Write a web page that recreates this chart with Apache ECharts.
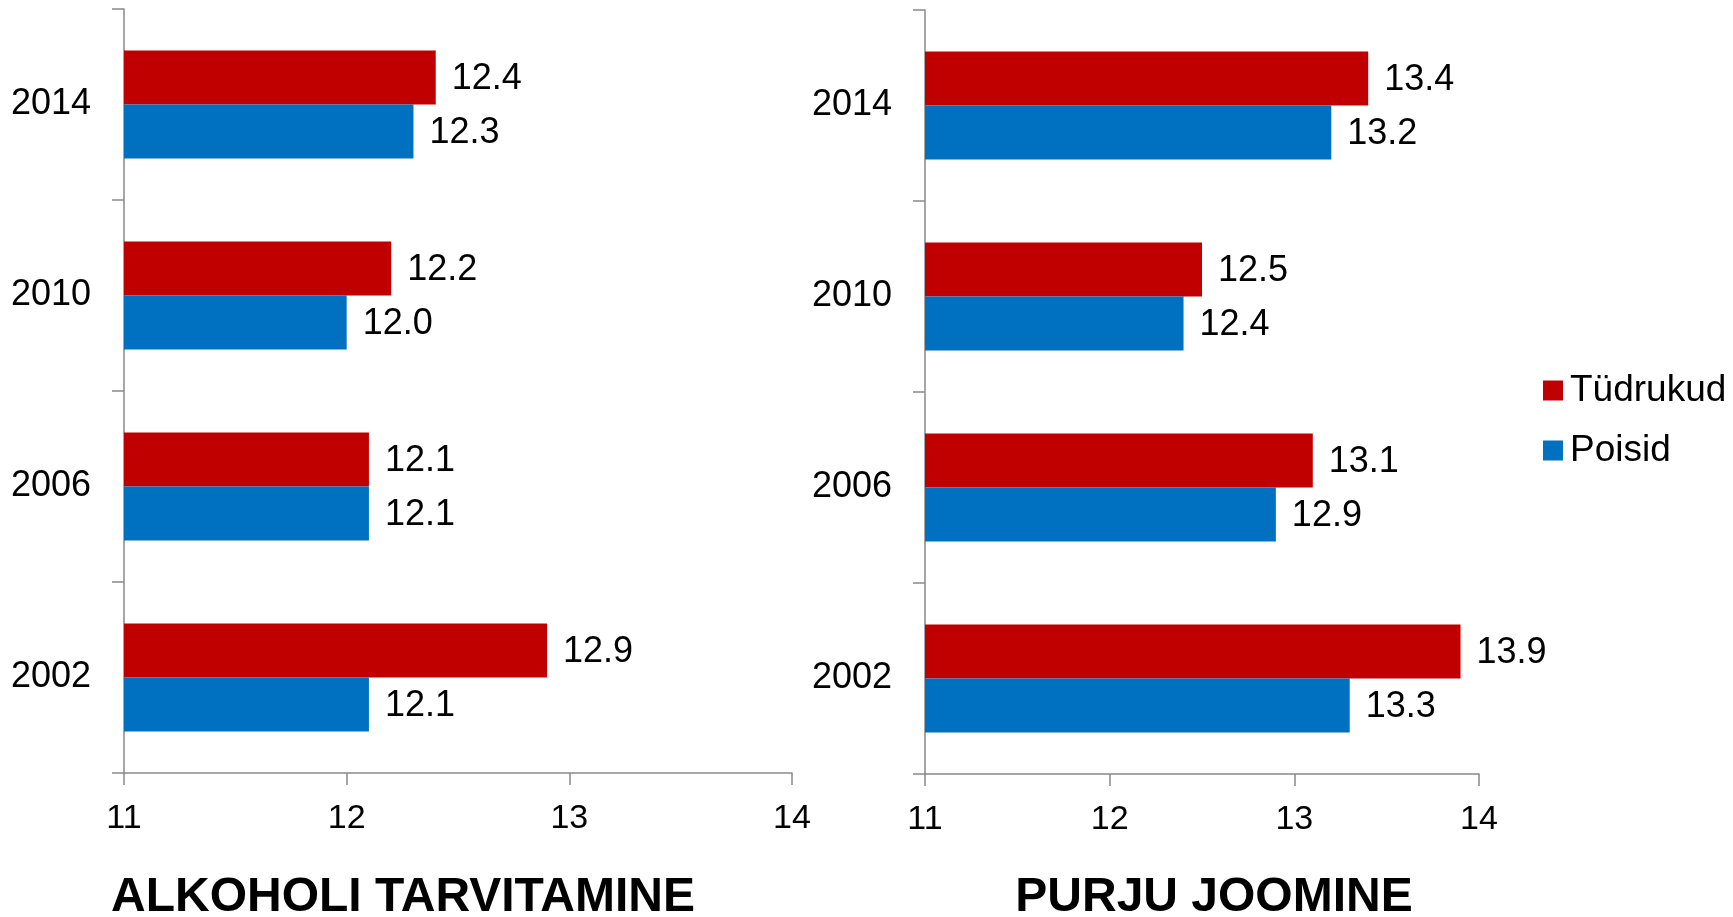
<!DOCTYPE html>
<html>
<head>
<meta charset="utf-8">
<script src="https://cdn.jsdelivr.net/npm/echarts@6/dist/echarts.min.js"></script>
<style>
html,body{margin:0;padding:0;background:#fff;}
#chart{width:1733px;height:917px;}
</style>
</head>
<body>
<div id="chart"></div>
<script>
const years = ['2002', '2006', '2010', '2014'];
const valueTicks = [11, 12, 13, 14];
const seriesNames = ['Tüdrukud', 'Poisid'];
const alcoholGirls = [12.9, 12.1, 12.2, 12.4];
const alcoholBoys = [12.1, 12.1, 12.0, 12.3];
const drunkGirls = [13.9, 13.1, 12.5, 13.4];
const drunkBoys = [13.3, 12.9, 12.4, 13.2];
const titles = ['ALKOHOLI TARVITAMINE', 'PURJU JOOMINE'];

const FONT = '"Liberation Sans", Arial, sans-serif';
const RED = '#C00000';
const BLUE = '#0070C0';
const AXIS = '#898989';

const chart = echarts.init(document.getElementById('chart'), null, {renderer: 'canvas'});

function xAxis(gridIndex) {
  return {
    type: 'value', gridIndex: gridIndex,
    min: valueTicks[0], max: valueTicks[valueTicks.length - 1], interval: 1,
    axisLine: {show: true, lineStyle: {color: AXIS, width: 1.5}},
    axisTick: {show: true, length: 12, lineStyle: {color: AXIS, width: 1.5}},
    splitLine: {show: false},
    axisLabel: {fontSize: 34, color: '#000', fontFamily: FONT, margin: 29}
  };
}
function yAxis(gridIndex) {
  return {
    type: 'category', gridIndex: gridIndex, data: years,
    axisLine: {show: true, lineStyle: {color: AXIS, width: 1.5}},
    axisTick: {show: true, length: 12, lineStyle: {color: AXIS, width: 1.5}},
    axisLabel: {fontSize: 36, color: '#000', fontFamily: FONT, margin: 33, padding: [4, 0, 0, 0]}
  };
}
function barSeries(name, data, color, idx) {
  return {
    type: 'bar', name: name, data: data,
    xAxisIndex: idx, yAxisIndex: idx,
    barWidth: 54, barGap: '0%',
    itemStyle: {color: color},
    label: {
      show: true, position: 'right', distance: 16, offset: [0, 2],
      fontSize: 36, color: '#000', fontFamily: FONT,
      formatter: p => p.value.toFixed(1)
    }
  };
}

chart.setOption({
  animation: false,
  backgroundColor: '#fff',
  grid: [
    {left: 124, top: 9, width: 668, height: 764, containLabel: false},
    {left: 925, top: 10, width: 554, height: 764, containLabel: false}
  ],
  xAxis: [xAxis(0), xAxis(1)],
  yAxis: [yAxis(0), yAxis(1)],
  legend: {
    data: seriesNames,
    orient: 'vertical', left: 1543, top: 372, padding: 0,
    itemWidth: 20, itemHeight: 20, itemGap: 23, icon: 'rect',
    textStyle: {fontSize: 37, color: '#000', fontFamily: FONT, lineHeight: 20, padding: [4, 0, 0, 2]}
  },
  series: [
    barSeries(seriesNames[0], alcoholGirls, RED, 0),
    barSeries(seriesNames[1], alcoholBoys, BLUE, 0),
    barSeries(seriesNames[0], drunkGirls, RED, 1),
    barSeries(seriesNames[1], drunkBoys, BLUE, 1)
  ],
  graphic: [
    {type: 'text', x: 403, y: 898, style: {text: titles[0], fill: '#000', font: 'bold 48px ' + FONT, textAlign: 'center', textVerticalAlign: 'middle'}},
    {type: 'text', x: 1214, y: 898, style: {text: titles[1], fill: '#000', font: 'bold 48px ' + FONT, textAlign: 'center', textVerticalAlign: 'middle'}}
  ]
});
</script>
</body>
</html>
